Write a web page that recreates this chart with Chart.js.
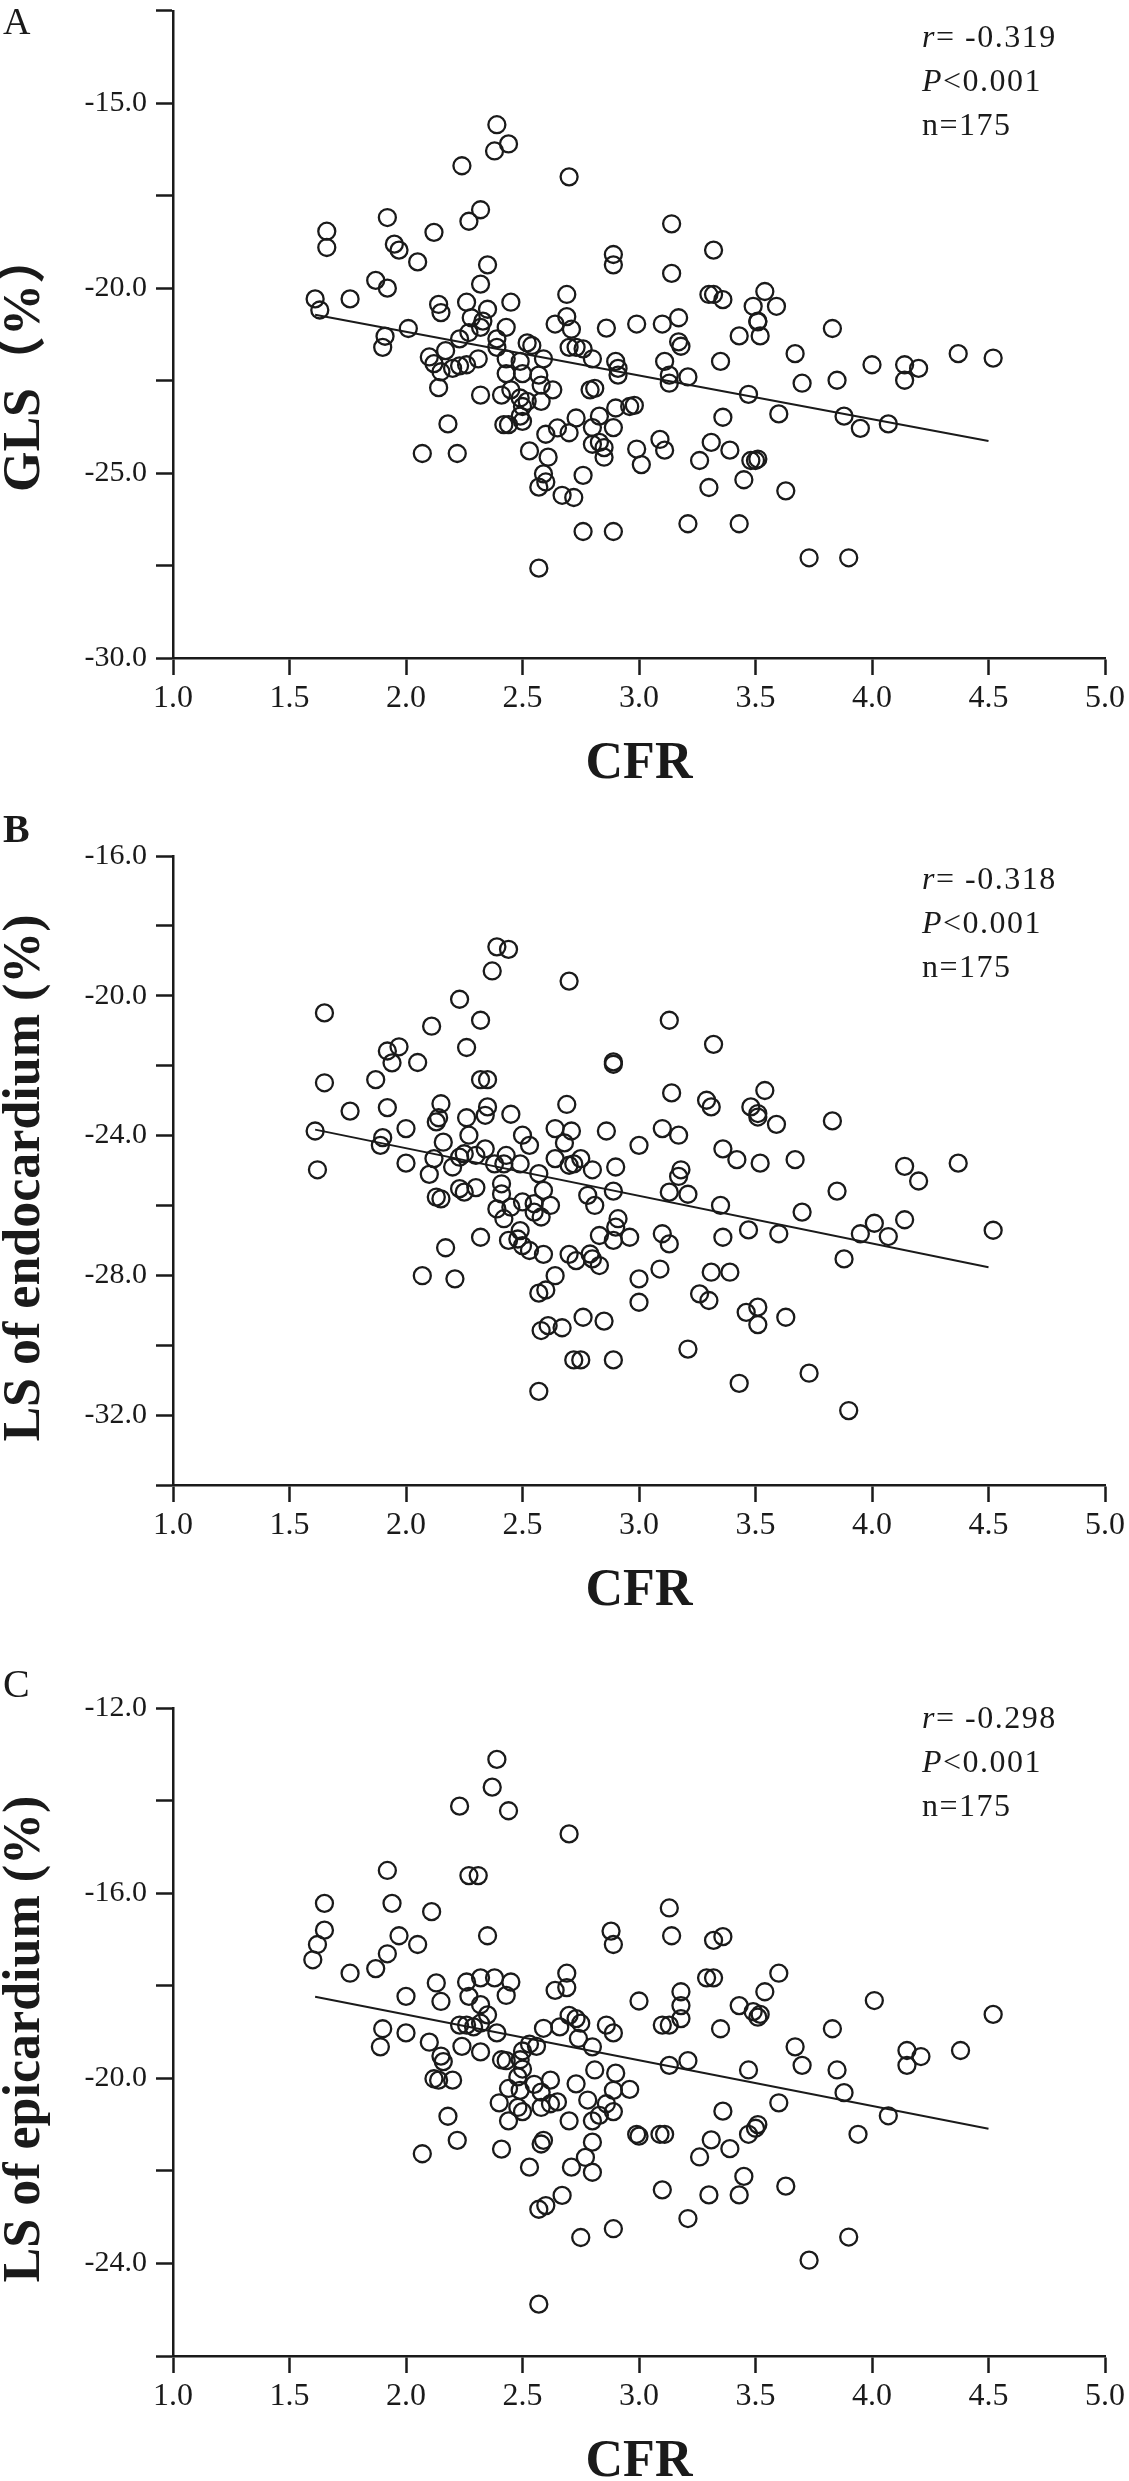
<!DOCTYPE html>
<html>
<head>
<meta charset="utf-8">
<title>CFR vs strain</title>
<script src="https://cdn.jsdelivr.net/npm/chart.js@4.4.0/dist/chart.umd.min.js"></script>
<style>
  body { margin: 0; background: #fff; }
  canvas { display: block; }
</style>
</head>
<body>
<canvas id="chartA" width="1129" height="800"></canvas>
<canvas id="chartB" width="1129" height="840"></canvas>
<canvas id="chartC" width="1129" height="841"></canvas>
<script>
// ---- data ----
// Panel A: CFR vs GLS (%)
const cfrA = [
  2.39,2.44,2.38,2.24,2.70,1.92,2.32,2.27,2.12,1.66,
  1.66,1.95,1.97,2.05,2.89,2.89,2.35,2.32,1.87,1.92,
  1.61,1.63,1.76,2.14,2.15,2.26,2.35,2.45,2.69,2.28,
  2.33,2.32,2.43,2.64,2.69,2.71,2.86,2.99,1.91,1.90,
  2.01,2.23,2.27,2.39,2.39,2.52,2.54,2.70,2.73,2.76,
  2.17,2.10,2.12,2.15,2.20,2.23,2.26,2.31,2.43,2.43,
  2.49,2.50,2.59,2.57,2.80,2.90,2.91,2.91,2.14,2.32,
  2.41,2.45,2.49,2.50,2.52,2.58,2.58,2.63,2.79,2.81,
  2.90,2.96,2.18,2.42,2.44,2.50,2.49,2.65,2.60,2.70,
  2.73,2.83,2.80,2.89,2.80,2.83,2.85,2.85,2.07,2.22,
  2.53,2.61,2.99,
  3.14,3.32,3.14,3.30,3.32,3.36,3.54,3.59,3.49,3.51,
  3.51,3.52,3.43,3.83,3.10,3.17,3.17,3.18,3.35,3.11,
  3.67,4.00,4.14,4.20,4.14,4.37,4.52,3.13,3.13,3.21,
  3.70,3.85,3.47,2.98,3.60,3.36,3.88,3.95,4.07,3.09,
  3.11,3.31,3.39,3.26,3.48,3.50,3.51,
  3.01,3.45,3.30,3.63,2.59,2.60,2.57,2.67,2.72,2.76,
  2.76,2.89,3.21,3.43,3.73,3.90,2.57
];
const glsA = [
  -15.58,-16.10,-16.29,-16.69,-16.99,-18.09,-17.88,-18.19,-18.49,-18.46,
  -18.90,-18.81,-18.97,-19.29,-19.09,-19.37,-19.37,-19.89,-19.79,-20.00,
  -20.29,-20.59,-20.29,-20.44,-20.66,-20.38,-20.57,-20.38,-20.17,-20.80,
  -20.89,-21.06,-21.06,-20.97,-20.77,-21.11,-21.08,-20.97,-21.30,-21.60,
  -21.09,-21.37,-21.20,-21.37,-21.60,-21.48,-21.55,-21.60,-21.60,-21.64,
  -21.69,-21.86,-22.04,-22.26,-22.17,-22.10,-22.07,-21.91,-21.91,-22.31,
  -21.98,-22.31,-21.91,-22.35,-21.91,-21.98,-22.17,-22.35,-22.69,-22.89,
  -22.89,-22.75,-22.97,-23.20,-23.06,-22.62,-23.06,-22.75,-22.75,-22.71,
  -23.24,-23.20,-23.67,-23.69,-23.69,-23.60,-23.46,-23.78,-23.95,-23.91,
  -23.51,-23.46,-23.77,-23.77,-24.22,-24.17,-24.31,-24.57,-24.47,-24.47,
  -24.40,-24.57,-24.35,
  -18.26,-18.97,-19.60,-20.17,-20.17,-20.31,-20.09,-20.49,-20.49,-20.89,
  -20.91,-21.29,-21.29,-21.09,-20.97,-20.80,-21.45,-21.57,-21.98,-21.98,
  -21.77,-22.07,-22.07,-22.17,-22.49,-21.77,-21.89,-22.35,-22.57,-22.40,
  -22.57,-22.49,-22.87,-23.17,-23.40,-23.49,-23.46,-23.79,-23.67,-24.09,
  -24.38,-24.17,-24.38,-24.66,-24.66,-24.66,-24.62,
  -24.77,-25.18,-25.39,-25.48,-25.02,-25.24,-25.38,-25.60,-25.66,-25.06,
  -26.58,-26.58,-26.37,-26.37,-27.29,-27.29,-27.57
];

// Panel B: CFR vs LS of endocardium (%)
const cfrB = [
  2.39,2.44,2.37,2.70,2.23,1.65,2.32,2.11,2.26,1.92,
  1.97,1.94,2.05,2.89,2.89,1.65,1.87,2.32,2.35,2.15,
  1.92,1.76,2.35,2.34,2.69,2.45,2.26,2.14,2.13,1.61,
  2.00,2.27,2.50,2.53,2.64,2.71,2.68,2.86,3.00,1.90,
  1.89,2.16,2.34,2.30,2.12,2.23,2.20,2.25,2.43,2.42,
  2.49,2.38,2.64,2.70,2.75,2.72,2.80,2.90,1.62,2.00,
  2.10,2.57,2.41,2.89,2.59,2.78,2.81,2.13,2.15,2.23,
  2.25,2.30,2.41,2.39,2.45,2.50,2.55,2.62,2.55,2.58,
  2.42,2.91,2.90,2.96,2.32,2.44,2.49,2.48,2.50,2.53,
  2.59,2.83,2.89,2.70,2.73,2.79,2.80,2.83,2.17,2.07,
  2.21,2.64,2.57,2.60,2.76,2.85,2.58,2.61,2.67,2.72,
  2.75,2.89,2.57,
  3.13,3.32,3.14,3.54,3.29,3.31,3.48,3.51,3.51,3.59,
  3.83,3.10,3.17,3.36,3.42,3.52,3.67,4.14,4.20,4.37,
  3.18,3.17,3.13,3.21,3.35,3.85,4.52,3.70,3.10,3.13,
  3.36,3.47,3.60,3.95,4.01,4.07,4.14,3.88,3.00,3.09,
  3.31,3.39,3.00,3.26,3.30,3.46,3.51,3.51,3.63,3.21,
  3.43,3.73,3.90
];
const endoB = [
  -18.60,-18.67,-19.29,-19.58,-20.10,-20.49,-20.70,-20.87,-21.48,-21.58,
  -21.46,-21.92,-21.91,-21.89,-21.96,-22.49,-22.40,-22.40,-22.40,-23.09,
  -23.20,-23.30,-23.18,-23.42,-23.11,-23.39,-23.49,-23.49,-23.61,-23.87,
  -23.80,-23.99,-23.99,-24.28,-23.80,-23.87,-24.21,-23.87,-24.28,-24.06,
  -24.28,-24.19,-24.38,-24.57,-24.66,-24.62,-24.90,-24.52,-24.57,-24.81,
  -24.81,-24.81,-24.66,-24.85,-24.66,-24.81,-24.98,-24.90,-24.98,-24.79,
  -25.11,-25.09,-25.38,-25.59,-25.57,-25.71,-26.00,-25.76,-25.81,-25.52,
  -25.62,-25.49,-25.67,-26.10,-26.05,-25.90,-25.95,-26.00,-26.19,-26.33,
  -26.38,-26.38,-26.62,-26.91,-26.91,-27.00,-26.72,-26.96,-27.15,-27.29,
  -27.40,-26.86,-27.00,-27.40,-27.58,-27.39,-27.53,-27.72,-27.21,-28.01,
  -28.10,-28.01,-28.51,-28.42,-29.20,-29.31,-29.58,-29.44,-29.50,-30.42,
  -30.42,-30.42,-31.32,
  -20.70,-21.39,-22.78,-22.71,-22.99,-23.18,-23.18,-23.37,-23.47,-23.68,
  -23.58,-23.80,-23.99,-24.38,-24.69,-24.79,-24.69,-24.88,-25.30,-24.79,
  -24.98,-25.17,-25.62,-25.68,-26.00,-25.59,-26.71,-26.19,-26.81,-27.10,
  -26.91,-26.70,-26.81,-26.81,-26.51,-26.89,-26.41,-27.53,-28.10,-27.82,
  -27.91,-27.91,-28.77,-28.53,-28.72,-29.06,-28.91,-29.41,-29.20,-30.11,
  -31.09,-30.80,-31.87
];

// Panel C: CFR vs LS of epicardium (%)
const cfrC = [
  2.39,2.37,2.23,2.44,2.70,1.92,2.27,2.31,1.65,1.94,
  2.11,2.35,2.88,2.89,1.65,1.62,1.60,1.97,2.05,1.92,
  1.87,1.76,2.13,2.26,2.32,2.38,2.45,2.69,2.64,2.69,
  2.00,2.15,2.27,2.32,2.35,2.43,2.23,2.26,2.29,2.32,
  2.39,2.70,2.73,2.75,2.66,2.59,2.86,2.89,1.90,1.89,
  2.00,2.10,2.24,2.32,2.74,2.80,2.53,2.56,2.50,2.15,
  2.16,2.12,2.14,2.20,2.41,2.43,2.49,2.50,2.48,2.81,
  2.90,2.73,2.62,2.44,2.49,2.55,2.58,2.89,2.96,2.40,
  2.48,2.50,2.58,2.62,2.65,2.78,2.86,2.89,2.83,2.44,
  2.70,2.80,2.18,2.22,2.07,2.41,2.59,2.58,2.80,2.77,
  2.71,2.80,2.53,2.67,2.57,2.60,2.89,2.75,2.57,
  3.13,3.14,3.32,3.36,3.29,3.32,3.60,3.54,3.00,3.18,
  3.18,3.18,3.10,3.13,3.43,3.49,3.51,3.52,4.01,3.35,
  3.83,4.52,3.67,3.70,4.15,4.21,4.15,4.38,3.13,3.21,
  3.47,3.85,3.88,3.60,3.36,4.07,3.00,2.99,3.09,3.11,
  3.51,3.47,3.50,3.31,3.39,3.94,3.26,3.45,3.63,3.10,
  3.30,3.43,3.21,3.90,3.73
];
const epiC = [
  -13.11,-13.71,-14.12,-14.22,-14.72,-15.51,-15.62,-15.62,-16.22,-16.22,
  -16.40,-16.92,-16.82,-17.11,-16.80,-17.11,-17.44,-16.92,-17.11,-17.31,
  -17.63,-17.73,-17.94,-17.92,-17.83,-17.83,-17.92,-17.73,-18.10,-18.04,
  -18.23,-18.34,-18.23,-18.41,-18.63,-18.21,-18.85,-18.85,-18.89,-18.81,
  -19.02,-18.64,-18.71,-18.81,-18.89,-18.92,-18.85,-19.02,-18.93,-19.32,
  -19.02,-19.22,-19.31,-19.43,-19.14,-19.32,-19.26,-19.31,-19.41,-19.52,
  -19.64,-20.01,-20.04,-20.04,-19.60,-19.62,-19.60,-19.80,-19.97,-19.82,
  -19.89,-20.12,-20.04,-20.22,-20.26,-20.13,-20.30,-20.26,-20.24,-20.53,
  -20.63,-20.72,-20.63,-20.55,-20.51,-20.47,-20.55,-20.72,-20.80,-20.92,
  -20.92,-20.92,-20.82,-21.34,-21.63,-21.53,-21.34,-21.42,-21.38,-21.71,
  -21.92,-22.03,-21.92,-22.53,-22.83,-22.75,-23.25,-23.44,-24.88,
  -16.32,-16.92,-17.02,-16.94,-17.83,-17.83,-17.73,-18.13,-18.33,-18.13,
  -18.43,-18.71,-18.85,-18.85,-18.43,-18.56,-18.68,-18.62,-18.32,-18.93,
  -18.93,-18.62,-19.32,-19.72,-19.40,-19.53,-19.72,-19.40,-19.72,-19.62,
  -19.82,-19.82,-20.31,-20.53,-20.71,-20.81,-21.25,-21.21,-21.21,-21.21,
  -21.00,-21.21,-21.08,-21.33,-21.52,-21.21,-21.70,-22.12,-22.33,-22.41,
  -22.52,-22.52,-23.03,-23.43,-23.93
];

// fitted lines (end points as drawn)
const fitCfr = [1.61, 4.50];
const fitA = [-20.72, -24.13];
const fitB = [-23.83, -27.77];
const fitC = [-18.24, -21.09];

// axes
const xRange = [1, 5];
const xLabels = [1.0, 1.5, 2.0, 2.5, 3.0, 3.5, 4.0, 4.5, 5.0];
const yRangeA = [-30, -12.5];
const yLabelsA = [-30, -25, -20, -15];
const yRangeB = [-34, -16];
const yLabelsB = [-32, -28, -24, -20, -16];
const yRangeC = [-26, -12];
const yLabelsC = [-24, -20, -16, -12];

// stats text
const rValues = ['-0.319', '-0.318', '-0.298'];
const pText = '<0.001';
const nText = 'n=175';

const ink = '#1a1a1a';
const serif = '"Liberation Serif", "Times New Roman", serif';

const panelText = {
    id: 'panelText',
    afterDraw(chart, args, o) {
        const ctx = chart.ctx;
        ctx.save();
        ctx.fillStyle = ink;
        ctx.textBaseline = 'alphabetic';
        ctx.textAlign = 'left';

        // panel letter
        ctx.font = o.letterFont;
        ctx.fillText(o.letter, 3, o.letterY);

        // y axis title
        ctx.save();
        ctx.translate(26, o.titleY);
        ctx.rotate(-Math.PI / 2);
        ctx.font = 'bold 52px ' + serif + ', "Noto Sans CJK SC"';
        ctx.textAlign = 'center';
        ctx.textBaseline = 'middle';
        ctx.fillText(o.title, 0, 0);
        ctx.restore();

        // r / P / n
        const lines = [
            [['r', true], ['= ' + o.r, false]],
            [['P', true], [pText, false]],
            [[nText, false]]
        ];
        if ('letterSpacing' in ctx) ctx.letterSpacing = '1.5px';
        lines.forEach((segs, i) => {
            let x = 922;
            const y = o.statsY + i * 44;
            segs.forEach(([txt, ital]) => {
                ctx.font = (ital ? 'italic ' : '') + '32px ' + serif;
                ctx.fillText(txt, x, y);
                x += ctx.measureText(txt).width;
            });
        });
        ctx.restore();
    }
};

function makePanel(id, cfr, vals, fit, yRange, yLabels, pad, text) {
    const points = cfr.map((c, i) => ({ x: c, y: vals[i] }));
    const line = fitCfr.map((c, i) => ({ x: c, y: fit[i] }));
    const step = yRange[0] === -30 ? 2.5 : 2;

    return new Chart(document.getElementById(id).getContext('2d'), {
        type: 'scatter',
        data: {
            datasets: [{
                data: points,
                pointStyle: 'circle',
                pointRadius: 8.5,
                pointHoverRadius: 8.5,
                borderWidth: 2.3,
                borderColor: ink,
                backgroundColor: 'rgba(0,0,0,0)'
            }, {
                type: 'line',
                data: line,
                borderColor: ink,
                borderWidth: 2,
                pointRadius: 0,
                fill: false
            }]
        },
        options: {
            responsive: false,
            animation: false,
            devicePixelRatio: 1,
            events: [],
            layout: { padding: { left: 0, right: 24, top: pad.top, bottom: pad.bottom } },
            plugins: {
                legend: { display: false },
                tooltip: { enabled: false },
                panelText: text
            },
            scales: {
                x: {
                    type: 'linear',
                    min: xRange[0],
                    max: xRange[1],
                    afterFit: s => { s.height = 125; s.paddingLeft = 0; s.paddingRight = 0; },
                    border: { display: true, color: ink, width: 2.5 },
                    grid: { drawOnChartArea: false, drawTicks: true, tickLength: 17, tickWidth: 2.5, tickColor: ink },
                    ticks: {
                        stepSize: 0.5,
                        autoSkip: false,
                        maxRotation: 0,
                        padding: 4,
                        color: ink,
                        font: { family: serif, size: 32 },
                        callback: v => xLabels.some(l => Math.abs(l - v) < 1e-6) ? Number(v).toFixed(1) : ''
                    },
                    title: {
                        display: true,
                        text: 'CFR',
                        color: ink,
                        padding: 0,
                        font: { family: serif, size: 52, weight: 'bold', lineHeight: 0.7 }
                    }
                },
                y: {
                    type: 'linear',
                    min: yRange[0],
                    max: yRange[1],
                    afterFit: s => { s.width = 173; s.paddingTop = 0; s.paddingBottom = 0; },
                    border: { display: true, color: ink, width: 2.5 },
                    grid: { drawOnChartArea: false, drawTicks: true, tickLength: 17, tickWidth: 2.5, tickColor: ink },
                    ticks: {
                        stepSize: step,
                        autoSkip: false,
                        padding: 9,
                        color: ink,
                        font: { family: serif, size: 30 },
                        callback: v => yLabels.some(l => Math.abs(l - v) < 1e-6) ? Number(v).toFixed(1) : ''
                    }
                }
            }
        },
        plugins: [panelText]
    });
}

document.addEventListener('DOMContentLoaded', function() {
    makePanel('chartA', cfrA, glsA, fitA, yRangeA, yLabelsA,
        { top: 5, bottom: 17 },
        { letter: 'A', letterFont: '38px ' + serif, letterY: 34, title: 'GLS（%）', titleY: 362, r: rValues[0], statsY: 47 });

    makePanel('chartB', cfrB, endoB, fitB, yRangeB, yLabelsB,
        { top: 56, bottom: 30 },
        { letter: 'B', letterFont: 'bold 40px ' + serif, letterY: 42, title: 'LS of endocardium (%)', titleY: 378, r: rValues[1], statsY: 89 });

    makePanel('chartC', cfrC, epiC, fitC, yRangeC, yLabelsC,
        { top: 68, bottom: 0 },
        { letter: 'C', letterFont: '40px ' + serif, letterY: 57, title: 'LS of epicardium (%)', titleY: 399, r: rValues[2], statsY: 88 });
});
</script>
</body>
</html>
